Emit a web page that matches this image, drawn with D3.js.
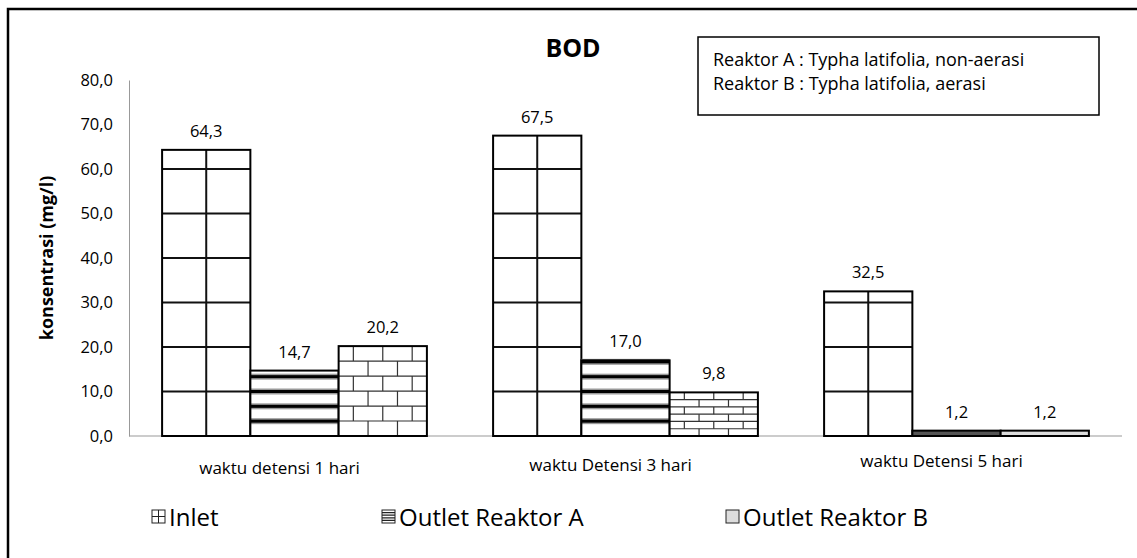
<!DOCTYPE html>
<html>
<head>
<meta charset="utf-8">
<script src="https://cdn.jsdelivr.net/npm/d3@7"></script>
<style>
  body { margin: 0; background: #fff; }
  text { font-family: "Open Sans", sans-serif; fill: #000; }
</style>
</head>
<body>
<div id="chart"></div>
<script>
const width = 1137
const height = 558

// data
const categories = ["waktu detensi 1 hari", "waktu Detensi 3 hari", "waktu Detensi 5 hari"]
const seriesNames = ["Inlet", "Outlet Reaktor A", "Outlet Reaktor B"]
const inlet = [64.3, 67.5, 32.5]
const outletA = [14.7, 17.0, 1.2]
const outletB = [20.2, 9.8, 1.2]
const yTicks = [0, 10, 20, 30, 40, 50, 60, 70, 80]
const notes = ["Reaktor A : Typha latifolia, non-aerasi", "Reaktor B : Typha latifolia, aerasi"]

const margin = { left: 129, right: 15, top: 80, bottom: 122 }

const svg = d3.select("#chart")
    .append("svg")
    .attr("width", width)
    .attr("height", height)

// outer frame (left + top only visible)
svg.append("path")
    .attr("d", `M8,${height} V9 H${width}`)
    .attr("fill", "none")
    .attr("stroke", "#000")
    .attr("stroke-width", 2.5)

const x = d3.scaleBand()
    .domain(categories)
    .range([margin.left, width - margin.right])
    .paddingInner(0.2)
    .paddingOuter(0.1)

const xs = d3.scaleBand()
    .domain(seriesNames)
    .range([0, x.bandwidth()])

const y = d3.scaleLinear()
    .domain([0, 80])
    .range([height - margin.bottom, margin.top])

const fmt = d => d3.format(".1f")(d).replace(".", ",")

// axes
const yAxis = svg.append("g")
    .attr("transform", `translate(${margin.left},0)`)
    .call(d3.axisLeft(y).tickValues(yTicks).tickSize(0).tickPadding(16).tickFormat(fmt))
yAxis.select(".domain").attr("stroke", "#999")
yAxis.selectAll("text").attr("font-size", 16.5).attr("fill", "#222")
    .style("font-family", "'Open Sans', sans-serif")

svg.append("line")
    .attr("x1", margin.left).attr("x2", width - margin.right)
    .attr("y1", y(0)).attr("y2", y(0))
    .attr("stroke", "#999")

svg.append("text")
    .attr("transform", `translate(47,${(y(0) + y(80)) / 2}) rotate(-90)`)
    .attr("text-anchor", "middle")
    .attr("dy", "0.35em")
    .attr("font-size", 18)
    .attr("font-weight", "bold")
    .text("konsentrasi (mg/l)")

// category labels
svg.selectAll(".cat")
    .data(categories)
    .join("text")
    .attr("class", "cat")
    .attr("x", d => x(d) + x.bandwidth() / 2 - 15)
    .attr("y", (d, i) => 474 - i * 3.5)
    .attr("text-anchor", "middle")
    .attr("font-size", 17)
    .text(d => d)

const bw = xs.bandwidth()
const unit = y(0) - y(10)

// Inlet bars: grid
const gIn = svg.append("g")
inlet.forEach((v, i) => {
    const bx = x(categories[i]) + xs("Inlet")
    const g = gIn.append("g")
    g.append("rect").attr("x", bx).attr("y", y(v)).attr("width", bw).attr("height", y(0) - y(v))
        .attr("fill", "#fff")
    g.append("line").attr("x1", bx + bw / 2).attr("x2", bx + bw / 2)
        .attr("y1", y(v)).attr("y2", y(0)).attr("stroke", "#111").attr("stroke-width", 2)
    g.selectAll("line.h").data(yTicks.filter(t => t > 0 && t < v)).join("line")
        .attr("class", "h")
        .attr("x1", bx).attr("x2", bx + bw).attr("y1", d => y(d)).attr("y2", d => y(d))
        .attr("stroke", "#111").attr("stroke-width", 2)
    g.append("rect").attr("x", bx).attr("y", y(v)).attr("width", bw).attr("height", y(0) - y(v))
        .attr("fill", "none").attr("stroke", "#000").attr("stroke-width", 2)
})

// Outlet A: horizontal stripes, tiled from baseline
const gA = svg.append("g")
outletA.forEach((v, i) => {
    const bx = x(categories[i]) + xs("Outlet Reaktor A")
    const g = gA.append("g")
    const h = y(0) - y(v)
    g.append("rect").attr("x", bx).attr("y", y(v)).attr("width", bw).attr("height", h)
        .attr("fill", "#fff")
    const stripes = d3.range(unit / 3, h, unit / 3)
    g.selectAll("rect.sg").data(stripes).join("rect").attr("class", "sg")
        .attr("x", bx).attr("width", bw).attr("y", d => y(0) - d - 3).attr("height", 6)
        .attr("fill", "#9a9a9a")
    g.selectAll("rect.sb").data(stripes).join("rect").attr("class", "sb")
        .attr("x", bx).attr("width", bw).attr("y", d => y(0) - d - 1.5).attr("height", 3)
        .attr("fill", "#000")
    if (h < 8) {
        g.append("rect").attr("x", bx).attr("y", y(v)).attr("width", bw).attr("height", h)
            .attr("fill", "#555")
    }
    g.append("rect").attr("x", bx).attr("y", y(v)).attr("width", bw).attr("height", h)
        .attr("fill", "none").attr("stroke", "#000").attr("stroke-width", 2)
})

// Outlet B: brick pattern stretched over the bar (6 rows x 3 bricks)
const gB = svg.append("g")
outletB.forEach((v, i) => {
    const bx = x(categories[i]) + xs("Outlet Reaktor B")
    const g = gB.append("g")
    const h = y(0) - y(v)
    const rh = h / 6
    const cw = bw / 3
    g.append("rect").attr("x", bx).attr("y", y(v)).attr("width", bw).attr("height", h)
        .attr("fill", h < 8 ? "#dcdcdc" : "#fff")
    if (h >= 8) {
        d3.range(1, 6).forEach(r => {
            g.append("line").attr("x1", bx).attr("x2", bx + bw)
                .attr("y1", y(v) + r * rh).attr("y2", y(v) + r * rh)
                .attr("stroke", "#333").attr("stroke-width", 1.2)
        })
        d3.range(6).forEach(r => {
            const off = r % 2 === 0 ? cw / 2 : 0
            d3.range(off || cw, bw, cw).forEach(cx => {
                if (cx <= 1 || cx >= bw - 1) return
                g.append("line").attr("x1", bx + cx).attr("x2", bx + cx)
                    .attr("y1", y(v) + r * rh).attr("y2", y(v) + (r + 1) * rh)
                    .attr("stroke", "#333").attr("stroke-width", 1.2)
            })
        })
    }
    g.append("rect").attr("x", bx).attr("y", y(v)).attr("width", bw).attr("height", h)
        .attr("fill", "none").attr("stroke", "#000").attr("stroke-width", 2)
})

// value labels
const all = []
categories.forEach((c, i) => {
    all.push({ c, s: "Inlet", v: inlet[i] })
    all.push({ c, s: "Outlet Reaktor A", v: outletA[i] })
    all.push({ c, s: "Outlet Reaktor B", v: outletB[i] })
})
svg.selectAll(".val")
    .data(all)
    .join("text")
    .attr("class", "val")
    .attr("x", d => x(d.c) + xs(d.s) + bw / 2)
    .attr("y", d => y(d.v) - 13)
    .attr("text-anchor", "middle")
    .attr("font-size", 16.5)
    .attr("fill", "#111")
    .text(d => fmt(d.v))

// title
svg.append("text")
    .attr("x", 573).attr("y", 57)
    .attr("text-anchor", "middle")
    .attr("font-size", 25)
    .attr("font-weight", "bold")
    .text("BOD")

// notes box
svg.append("rect")
    .attr("x", 698).attr("y", 37).attr("width", 401).attr("height", 78)
    .attr("fill", "#fff").attr("stroke", "#000").attr("stroke-width", 1.5)
svg.selectAll(".note")
    .data(notes)
    .join("text")
    .attr("class", "note")
    .attr("x", 713)
    .attr("y", (d, i) => 66 + i * 24)
    .attr("font-size", 18)
    .text(d => d)

// legend
const legX = [152, 382, 726]
const leg = svg.selectAll(".leg")
    .data(seriesNames)
    .join("g")
    .attr("class", "leg")
    .attr("transform", (d, i) => `translate(${legX[i]},510)`)
leg.append("rect").attr("width", 13).attr("height", 13)
    .attr("fill", (d, i) => ["#fff", "#fff", "#ddd"][i])
    .attr("stroke", "#222").attr("stroke-width", 1)
leg.filter((d, i) => i === 0).append("path")
    .attr("d", "M6.5,0V13M0,6.5H13").attr("stroke", "#222").attr("stroke-width", 1)
leg.filter((d, i) => i === 1).append("path")
    .attr("d", "M0,2.6H13M0,5.2H13M0,7.8H13M0,10.4H13").attr("stroke", "#222").attr("stroke-width", 1.2)
leg.append("text")
    .attr("x", 17).attr("y", 7).attr("dy", "0.36em")
    .attr("font-size", 24)
    .text(d => d)
</script>
</body>
</html>
